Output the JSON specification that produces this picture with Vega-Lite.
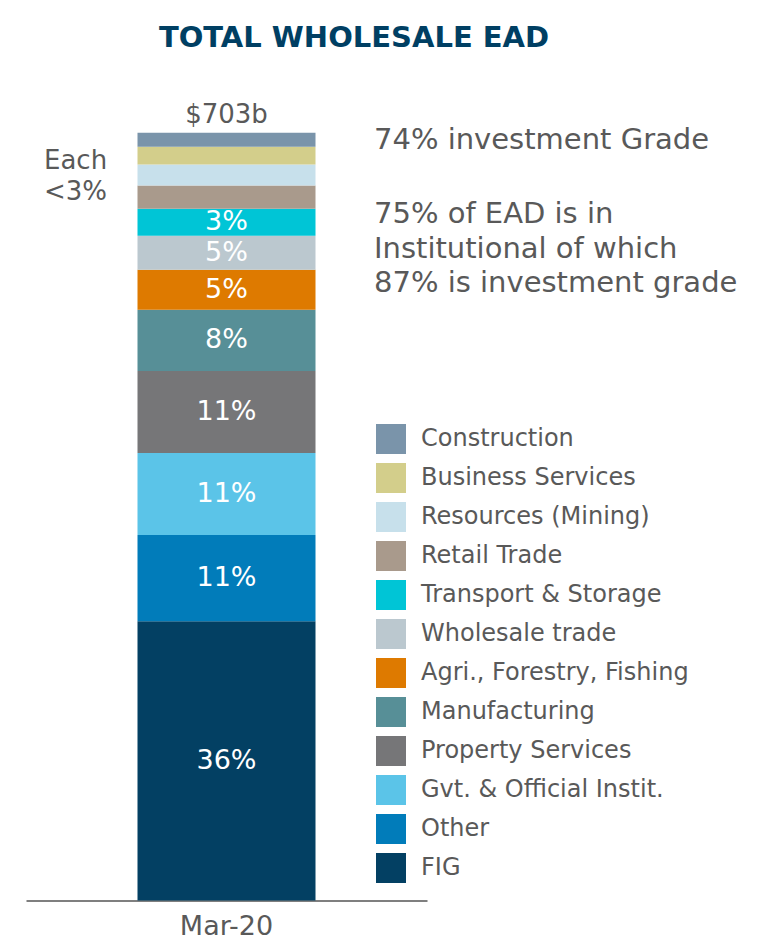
{
  "$schema": "https://vega.github.io/schema/vega-lite/v6.json",
  "width": 401,
  "height": 767.5,
  "autosize": {"type": "none"},
  "padding": {"left": 26, "top": 133, "right": 337, "bottom": 36.5},
  "background": "white",
  "title": {
    "text": "TOTAL WHOLESALE EAD",
    "color": "#003F63",
    "fontSize": 29,
    "fontWeight": "bold",
    "font": "DejaVu Sans",
    "anchor": "middle",
    "dx": 127.5,
    "offset": 49
  },
  "config": {
    "view": {"stroke": null},
    "font": "DejaVu Sans"
  },
  "data": {
    "values": [
      {"period": "Mar-20", "sector": "FIG", "ead": 255.8, "ord": 1, "label": "36%"},
      {"period": "Mar-20", "sector": "Other", "ead": 78.9, "ord": 2, "label": "11%"},
      {"period": "Mar-20", "sector": "Gvt. & Official Instit.", "ead": 75.2, "ord": 3, "label": "11%"},
      {"period": "Mar-20", "sector": "Property Services", "ead": 75.2, "ord": 4, "label": "11%"},
      {"period": "Mar-20", "sector": "Manufacturing", "ead": 56.0, "ord": 5, "label": "8%"},
      {"period": "Mar-20", "sector": "Agri., Forestry, Fishing", "ead": 36.7, "ord": 6, "label": "5%"},
      {"period": "Mar-20", "sector": "Wholesale trade", "ead": 31.1, "ord": 7, "label": "5%"},
      {"period": "Mar-20", "sector": "Transport & Storage", "ead": 24.8, "ord": 8, "label": "3%"},
      {"period": "Mar-20", "sector": "Retail Trade", "ead": 21.1, "ord": 9, "label": ""},
      {"period": "Mar-20", "sector": "Resources (Mining)", "ead": 19.3, "ord": 10, "label": ""},
      {"period": "Mar-20", "sector": "Business Services", "ead": 16.2, "ord": 11, "label": ""},
      {"period": "Mar-20", "sector": "Construction", "ead": 12.9, "ord": 12, "label": ""}
    ]
  },
  "layer": [
    {
      "mark": {"type": "bar", "width": 178},
      "encoding": {
        "x": {
          "field": "period",
          "type": "nominal",
          "axis": {
            "title": null,
            "domainColor": "#7F7F7F",
            "domainWidth": 2,
            "ticks": false,
            "labelFontSize": 27,
            "labelColor": "#595959",
            "labelPadding": 13,
            "labelAngle": 0,
            "labelFont": "DejaVu Sans"
          }
        },
        "y": {
          "field": "ead",
          "type": "quantitative",
          "stack": "zero",
          "scale": {"domain": [0, 703], "nice": false},
          "axis": null
        },
        "color": {
          "field": "sector",
          "type": "nominal",
          "scale": {
            "domain": ["Construction", "Business Services", "Resources (Mining)", "Retail Trade", "Transport & Storage", "Wholesale trade", "Agri., Forestry, Fishing", "Manufacturing", "Property Services", "Gvt. & Official Instit.", "Other", "FIG"],
            "range": ["#7A94AA", "#D3CE8B", "#C7E0EB", "#A99A8C", "#00C5D6", "#BBC8CF", "#DE7A00", "#578F97", "#767678", "#5BC4E8", "#017CBA", "#034063"]
          },
          "legend": {
            "title": null,
            "orient": "none",
            "legendX": 350,
            "legendY": 291,
            "symbolType": "square",
            "symbolSize": 900,
            "symbolStrokeWidth": 0,
            "labelFontSize": 24,
            "labelColor": "#595959",
            "labelFont": "DejaVu Sans",
            "labelOffset": 15,
            "labelLimit": 400,
            "rowPadding": 9
          }
        },
        "order": {"field": "ord", "type": "quantitative"}
      }
    },
    {
      "transform": [
        {"window": [{"op": "sum", "field": "ead", "as": "cum"}], "sort": [{"field": "ord", "order": "ascending"}]},
        {"calculate": "datum.cum - datum.ead / 2", "as": "mid"}
      ],
      "mark": {"type": "text", "fontSize": 27, "baseline": "middle", "align": "center", "color": "#FFFFFF"},
      "encoding": {
        "x": {"field": "period", "type": "nominal"},
        "y": {"field": "mid", "type": "quantitative"},
        "text": {"field": "label"}
      }
    },
    {
      "mark": {"type": "text", "fontSize": 26, "baseline": "alphabetic", "align": "center", "dy": -10, "color": "#595959"},
      "encoding": {
        "x": {"field": "period", "type": "nominal"},
        "y": {"aggregate": "sum", "field": "ead", "type": "quantitative"},
        "text": {"value": "$703b"}
      }
    },
    {
      "data": {"values": [{"period": "Mar-20", "note": "Each", "total": 703}]},
      "mark": {"type": "text", "fontSize": 26, "baseline": "alphabetic", "align": "left", "dx": -182.5, "dy": 36, "color": "#595959"},
      "encoding": {
        "x": {"field": "period", "type": "nominal"},
        "y": {"field": "total", "type": "quantitative"},
        "text": {"field": "note"}
      }
    },
    {
      "data": {"values": [{"period": "Mar-20", "note": "<3%", "total": 703}]},
      "mark": {"type": "text", "fontSize": 26, "baseline": "alphabetic", "align": "left", "dx": -182.5, "dy": 67, "color": "#595959"},
      "encoding": {
        "x": {"field": "period", "type": "nominal"},
        "y": {"field": "total", "type": "quantitative"},
        "text": {"field": "note"}
      }
    },
    {
      "data": {"values": [{"period": "Mar-20", "note": "74% investment Grade", "total": 703}]},
      "mark": {"type": "text", "fontSize": 29, "baseline": "alphabetic", "align": "left", "dx": 147.5, "dy": 16, "color": "#595959"},
      "encoding": {
        "x": {"field": "period", "type": "nominal"},
        "y": {"field": "total", "type": "quantitative"},
        "text": {"field": "note"}
      }
    },
    {
      "data": {"values": [{"period": "Mar-20", "note": "75% of EAD is in", "total": 703}]},
      "mark": {"type": "text", "fontSize": 29, "baseline": "alphabetic", "align": "left", "dx": 147.5, "dy": 90, "color": "#595959"},
      "encoding": {
        "x": {"field": "period", "type": "nominal"},
        "y": {"field": "total", "type": "quantitative"},
        "text": {"field": "note"}
      }
    },
    {
      "data": {"values": [{"period": "Mar-20", "note": "Institutional of which", "total": 703}]},
      "mark": {"type": "text", "fontSize": 29, "baseline": "alphabetic", "align": "left", "dx": 147.5, "dy": 124.7, "color": "#595959"},
      "encoding": {
        "x": {"field": "period", "type": "nominal"},
        "y": {"field": "total", "type": "quantitative"},
        "text": {"field": "note"}
      }
    },
    {
      "data": {"values": [{"period": "Mar-20", "note": "87% is investment grade", "total": 703}]},
      "mark": {"type": "text", "fontSize": 29, "baseline": "alphabetic", "align": "left", "dx": 147.5, "dy": 159.4, "color": "#595959"},
      "encoding": {
        "x": {"field": "period", "type": "nominal"},
        "y": {"field": "total", "type": "quantitative"},
        "text": {"field": "note"}
      }
    }
  ]
}
